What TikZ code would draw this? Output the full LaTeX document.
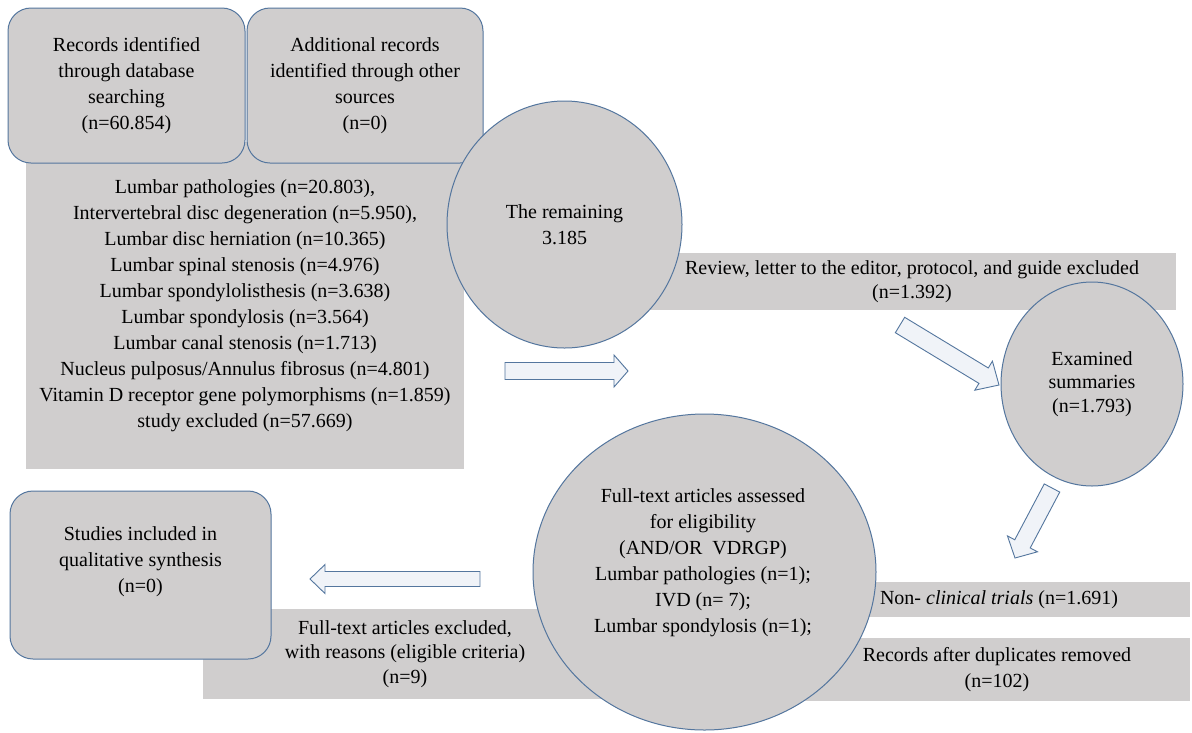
\documentclass[tikz,border=0pt]{standalone}
\usepackage{fontspec}
\setmainfont{LiberationSerif}[Extension=.ttf, UprightFont=*-Regular,
  ItalicFont=*-Italic, BoldFont=*-Bold, BoldItalicFont=*-BoldItalic]
\usetikzlibrary{shapes.geometric,calc,positioning}
\definecolor{boxgrey}{RGB}{208,206,206}
\definecolor{edgeblue}{RGB}{84,118,158}
\definecolor{arrowfill}{RGB}{240,243,248}
\tikzset{
  txt/.style={font=\fontsize{20}{26}\selectfont, align=center},
  roundbox/.style={txt, draw=edgeblue, line width=1pt, fill=boxgrey, rounded corners=23pt},
  band/.style={txt, fill=boxgrey, inner sep=0pt},
  bubble/.style={txt, ellipse, draw=edgeblue, line width=1pt, fill=boxgrey, inner sep=0pt},
  arrowedge/.style={draw=edgeblue, fill=arrowfill, line width=0.9pt, line join=miter}
}
% tail, tip, half shaft, half head, head length
\newcommand\blockarrow[5]{%
  \coordinate (ba-base) at ($(#2)!#5!(#1)$);
  \draw[arrowedge] ($(#1)!#3!90:(#2)$) -- ($(ba-base)!#3!90:(#2)$)
    -- ($(ba-base)!#4!90:(#2)$) -- (#2) -- ($(ba-base)!#4!-90:(#2)$)
    -- ($(ba-base)!#3!-90:(#2)$) -- ($(#1)!#3!-90:(#2)$) -- cycle;}
\begin{document}
\begin{tikzpicture}[x=1pt, y=-1pt]
  \fill[white] (0,0) rectangle (1192,732);
  \useasboundingbox (0,0) rectangle (1192,732);

  \node[band, minimum width=438pt, minimum height=327pt] (searchexcl) at (245,305.5)
    {Lumbar pathologies (n=20.803),\\Intervertebral disc degeneration (n=5.950),\\
     Lumbar disc herniation (n=10.365)\\Lumbar spinal stenosis (n=4.976)\\
     Lumbar spondylolisthesis (n=3.638)\\Lumbar spondylosis (n=3.564)\\
     Lumbar canal stenosis (n=1.713)\\Nucleus pulposus/Annulus fibrosus (n=4.801)\\
     Vitamin D receptor gene polymorphisms (n=1.859)\\study excluded (n=57.669)};
  \node[roundbox, minimum width=237pt, minimum height=155pt] (database) at (126.5,85.5)
    {Records identified\\through database\\searching\\(n=60.854)};
  \node[roundbox, minimum width=236pt, minimum height=155pt] (othersrc) at (365,85.5)
    {Additional records\\identified through other\\sources\\(n=0)};

  \node[band, minimum width=528pt, minimum height=57pt,
        font=\fontsize{20}{23.5}\selectfont] (review) at (912,281.5)
    {Review, letter to the editor, protocol, and guide excluded\\(n=1.392)};
  \node[bubble, minimum width=235pt, minimum height=247pt] (remaining) at (564.5,224.5)
    {The remaining\\3.185};
  \node[bubble, minimum width=182pt, minimum height=204pt,
        font=\fontsize{20}{23.5}\selectfont] (examined) at (1092,384)
    {Examined\\summaries\\(n=1.793)};

  \node[band, minimum width=382pt, minimum height=35pt] (nonclin) at (999,599.5)
    {Non- \textit{clinical trials} (n=1.691)};
  \node[band, minimum width=386pt, minimum height=63pt] (duplicates) at (997,669.5)
    {Records after duplicates removed\\(n=102)};
  \node[band, minimum width=404pt, minimum height=90pt,
        font=\fontsize{20}{24.5}\selectfont] (ftexcluded) at (405,654)
    {Full-text articles excluded,\\with reasons (eligible criteria)\\(n=9)};
  \node[bubble, minimum width=343pt, minimum height=316pt] (fulltext) at (704.5,572) {};
  \node[txt] (fulltext-txt) at ([xshift=-1.5pt,yshift=9pt]fulltext.center)
    {Full-text articles assessed\\for eligibility\\(AND/OR\enspace VDRGP)\\
     Lumbar pathologies (n=1);\\IVD (n= 7);\\Lumbar spondylosis (n=1);};
  \node[roundbox, minimum width=261pt, minimum height=168pt] (included) at (140.5,575) {};
  \node[txt] (included-txt) at ([yshift=13pt]included.center)
    {Studies included in\\qualitative synthesis\\(n=0)};

  \coordinate (fwd-tail) at (505,371);   \coordinate (fwd-tip) at (628,371);
  \coordinate (diag-tail) at (900,325);  \coordinate (diag-tip) at (999,385);
  \coordinate (down-tail) at (1052,488); \coordinate (down-tip) at (1015,558);
  \coordinate (back-tail) at (480,579);  \coordinate (back-tip) at (310,579);
  \blockarrow{fwd-tail}{fwd-tip}{8.5pt}{16pt}{14pt}
  \blockarrow{diag-tail}{diag-tip}{9pt}{17pt}{18pt}
  \blockarrow{down-tail}{down-tip}{8.75pt}{17pt}{16pt}
  \blockarrow{back-tail}{back-tip}{7.5pt}{14.5pt}{15pt}
\end{tikzpicture}
\end{document}
